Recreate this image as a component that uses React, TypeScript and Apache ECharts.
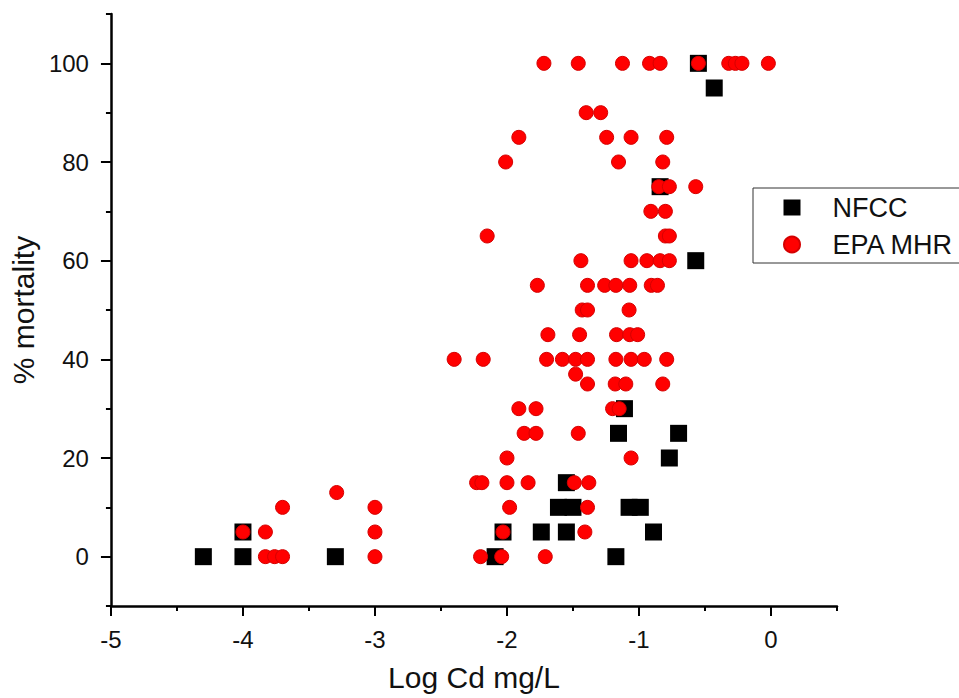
import React, { useEffect, useRef } from "react";
import * as echarts from "echarts";

// NFCC points [Log Cd mg/L, % mortality]
const nfccData: [number, number][] = [
  [-4.3, 0], [-4.0, 0], [-4.0, 5], [-3.3, 0],
  [-2.09, 0], [-2.03, 5], [-1.74, 5], [-1.61, 10], [-1.55, 5], [-1.55, 15],
  [-1.5, 10], [-1.175, 0], [-1.155, 25], [-1.11, 30], [-1.075, 10], [-0.99, 10],
  [-0.89, 5], [-0.77, 20], [-0.7, 25], [-0.84, 75], [-0.57, 60], [-0.55, 100],
  [-0.43, 95],
];

// EPA MHR points [Log Cd mg/L, % mortality]
const epaData: [number, number][] = [
  [-3.83, 0], [-3.76, 0], [-3.7, 0], [-3.0, 0], [-2.2, 0], [-2.04, 0], [-1.71, 0],
  [-4.0, 5], [-3.83, 5], [-3.0, 5], [-2.03, 5], [-1.41, 5],
  [-3.7, 10], [-3.0, 10], [-1.98, 10], [-1.39, 10],
  [-3.29, 13],
  [-2.23, 15], [-2.19, 15], [-2.0, 15], [-1.84, 15], [-1.49, 15], [-1.38, 15],
  [-2.0, 20], [-1.06, 20],
  [-1.87, 25], [-1.78, 25], [-1.46, 25],
  [-1.91, 30], [-1.78, 30], [-1.2, 30], [-1.15, 30],
  [-1.39, 35], [-1.18, 35], [-1.1, 35], [-0.82, 35],
  [-1.48, 37],
  [-2.4, 40], [-2.18, 40], [-1.7, 40], [-1.58, 40], [-1.48, 40], [-1.39, 40],
  [-1.175, 40], [-1.06, 40], [-0.96, 40], [-0.79, 40],
  [-1.69, 45], [-1.45, 45], [-1.17, 45], [-1.07, 45], [-1.01, 45],
  [-1.43, 50], [-1.39, 50], [-1.075, 50],
  [-1.77, 55], [-1.39, 55], [-1.26, 55], [-1.175, 55], [-1.07, 55], [-0.907, 55], [-0.86, 55],
  [-1.44, 60], [-1.06, 60], [-0.94, 60], [-0.84, 60], [-0.77, 60],
  [-2.15, 65], [-0.8, 65], [-0.77, 65],
  [-0.91, 70], [-0.8, 70],
  [-0.85, 75], [-0.77, 75], [-0.57, 75],
  [-2.01, 80], [-1.155, 80], [-0.82, 80],
  [-1.91, 85], [-1.245, 85], [-1.06, 85], [-0.79, 85],
  [-1.4, 90], [-1.29, 90],
  [-1.72, 100], [-1.46, 100], [-1.125, 100], [-0.92, 100], [-0.84, 100],
  [-0.55, 100], [-0.32, 100], [-0.27, 100], [-0.22, 100], [-0.02, 100],
];

const xMajor = [-5, -4, -3, -2, -1, 0];
const xMinor = [-4.5, -3.5, -2.5, -1.5, -0.5, 0.5];
const yMajor = [0, 20, 40, 60, 80, 100];
const yMinor = [-10, 10, 30, 50, 70, 90, 110];

const FONT = "Liberation Sans, Arial, sans-serif";

export default function App() {
  const chartRef = useRef<HTMLDivElement>(null);

  useEffect(() => {
    if (!chartRef.current) return;
    const chart = echarts.init(chartRef.current, null, { renderer: "svg" });

    const option = {
      animation: false,
      backgroundColor: "#fff",
      grid: { left: 107, right: 122, top: 14, bottom: 92 },
      legend: {
        orient: "vertical",
        left: 753,
        top: 188,
        borderColor: "#333",
        borderWidth: 1,
        padding: [6, 60, 5, 30],
        itemGap: 10,
        itemWidth: 17,
        itemHeight: 16,
        textStyle: {
          fontFamily: FONT,
          fontSize: 27,
          lineHeight: 26,
          color: "#111",
          padding: [0, 0, 0, 27],
        },
        data: [
          { name: "NFCC", icon: "rect" },
          { name: "EPA MHR", icon: "circle" },
        ],
      },
      xAxis: [
        {
          type: "value",
          min: -5,
          max: 0.5,
          position: "bottom",
          name: "Log Cd mg/L",
          nameLocation: "middle",
          nameGap: 56,
          nameTextStyle: { fontFamily: FONT, fontSize: 30, color: "#111" },
          axisLine: { show: true, onZero: false, lineStyle: { color: "#000", width: 2.5 } },
          axisTick: {
            show: true,
            length: 10,
            lineStyle: { color: "#000", width: 2 },
            customValues: xMajor,
          },
          axisLabel: {
            customValues: xMajor,
            margin: 21,
            fontFamily: FONT,
            fontSize: 24,
            color: "#111",
          },
          splitLine: { show: false },
        },
        {
          type: "value",
          min: -5,
          max: 0.5,
          position: "bottom",
          axisLine: { show: false, onZero: false },
          axisTick: {
            show: true,
            length: 5,
            lineStyle: { color: "#000", width: 2 },
            customValues: xMinor,
          },
          axisLabel: { show: false },
          splitLine: { show: false },
        },
      ],
      yAxis: [
        {
          type: "value",
          min: -10,
          max: 110,
          position: "left",
          name: "% mortality",
          nameLocation: "middle",
          nameGap: 70,
          nameTextStyle: { fontFamily: FONT, fontSize: 30, color: "#111" },
          axisLine: { show: true, onZero: false, lineStyle: { color: "#000", width: 2.5 } },
          axisTick: {
            show: true,
            length: 10,
            lineStyle: { color: "#000", width: 2 },
            customValues: yMajor,
          },
          axisLabel: {
            customValues: yMajor,
            margin: 22,
            fontFamily: FONT,
            fontSize: 24,
            color: "#111",
          },
          splitLine: { show: false },
        },
        {
          type: "value",
          min: -10,
          max: 110,
          position: "left",
          axisLine: { show: false, onZero: false },
          axisTick: {
            show: true,
            length: 5,
            lineStyle: { color: "#000", width: 2 },
            customValues: yMinor,
          },
          axisLabel: { show: false },
          splitLine: { show: false },
        },
      ],
      series: [
        {
          name: "NFCC",
          type: "scatter",
          symbol: "rect",
          symbolSize: 17,
          itemStyle: { color: "#000", opacity: 1 },
          data: nfccData,
        },
        {
          name: "EPA MHR",
          type: "scatter",
          symbol: "circle",
          symbolSize: 14,
          itemStyle: { color: "#ff0000", borderColor: "#d40000", borderWidth: 1, opacity: 1 },
          data: epaData,
        },
      ],
    };

    chart.setOption(option);

    return () => {
      chart.dispose();
    };
  }, []);

  return (
    <div
      ref={chartRef}
      style={{ position: "fixed", left: 0, top: 0, width: "959px", height: "698px" }}
    />
  );
}
